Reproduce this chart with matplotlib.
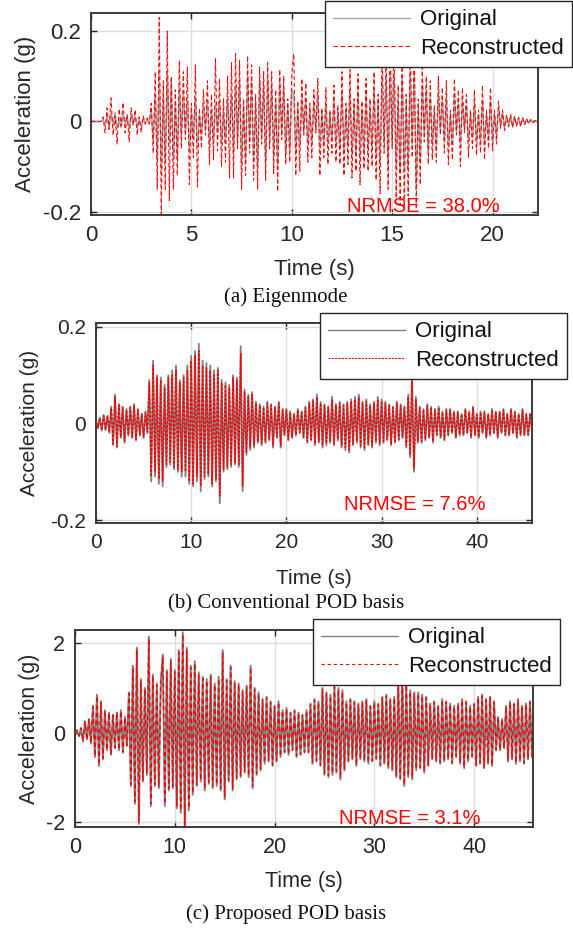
import matplotlib
matplotlib.use('Agg')
import matplotlib.pyplot as plt
import numpy as np
from matplotlib.lines import Line2D

plt.rcParams['font.family'] = ['Liberation Sans', 'DejaVu Sans']
plt.rcParams['axes.unicode_minus'] = False

W, H = 573, 934  # output size in px (dpi 100)

# ---- (a) Eigenmode : samples every 0.1 s, values in mg
dt_a = 0.1
orig_a = [0, 0, 0, 0, 0, 0,
          4, -8, 12, -15, 18, -6, 20, -16, 5, -14, 15, -4, 12, -18, 14, -5, 11, -13, 4, -10, 6, -3, 4, -3,
          25, -45, 60, -85, 105, -110, 60, -90, 110, -50, 95, -85, 40, -80, 75, -30,
          60, -25, 50, -65, 20, -40, 55, -60, 15, -30,
          35, -15, 45, -50, 25, -45, 40, -20, 45, -50, 20, -45, 50, -25, 60,
          -70, 80, -40, 90, -95, 35, -90, 100, -45, 90, -85, 40, -100, 90, -35, 80, -90, 95, -40, 80,
          -75, 45, -95, 90, -30, 75, -70, 35, -60, 70,
          60, -65, 30, -55, 50, -20, 45, -50, 25, -45, 40, -15, 55, -60, 20, -45, 40, -50, 15, -40,
          45, -50, 20, -55, 65, -70, 25, -55, 70, -75, 30, -70, 65, -80, 25, -70, 60, -65, 30, -60,
          70, -80, 40, -95, 100, -45, 95, -100, 110, -40, 105, -100, 45, -110, 100, -105, 40, -100, 110, -50,
          105, -150, 35, -90, 80, -30, 70, -65,
          55, -50, 20, -55, 60, -20, 45, -40, 50, -55, 15, -50, 55, -20, 40, -50, 45, -15, 35, -45, 15, -35,
          40, -45, 15, -40, 45, -50, 15, -35, 45, -40, 15, -30, 30, -10, 20, -15,
          12, -10, 14, -12, 10, -9, 8, -10, 7, -6, 5, -4, 4, -3, 2, 0]
rec_a = [0, 0, 0, 0, 0, 0,
         10, -25, 30, -18, 52, -30, 12, -50, 28, -10, 42, -25, 15, -45, 30, -8, 26, -30, 10, -24, 12, -6, 8, -6,
         40, -70, 110, -150, 230, -205, 90, -150, 200, -175, 100, -150, 70, -120, 135, -60,
         110, -40, 120, -140, 40, -80, 125, -145, 30, -60,
         70, -30, 90, -95, 60, -85, 140, -65, 95, -100, 50, -90, 100, -125, 130,
         -125, 150, -60, 135, -150, 50, -120, 145, -70, 125, -130, 60, -150, 120, -50, 110, -130, 130, -60, 110,
         -115, 70, -155, 115, -40, 100, -95, 50, -90, 105,
         150, -120, 45, -110, 95, -30, 85, -90, 40, -80, 70, -25, 95, -120, 30, -80, 75, -95, 25, -70,
         80, -90, 35, -95, 110, -120, 40, -95, 115, -125, 50, -110, 105, -140, 45, -105, 95, -110, 50, -100,
         110, -130, 60, -160, 170, -70, 160, -150, 190, -60, 180, -170, 80, -185, 175, -190, 60, -165, 180, -80,
         175, -190, 50, -140, 120, -45, 100, -95,
         90, -85, 35, -90, 100, -30, 75, -70, 90, -95, 25, -85, 95, -30, 70, -100, 75, -25, 60, -80, 25, -60,
         70, -75, 25, -70, 80, -85, 25, -60, 75, -65, 25, -50, 45, -15, 25, -20,
         14, -12, 15, -13, 11, -10, 9, -11, 8, -7, 6, -5, 4, -3, 2, 0]

# ---- (b) Conventional POD basis : samples every 0.2 s, values in mg
dt_b = 0.2
orig_b = [5, -10, 12, -15, 18, -14, 16, -20,
          35, -45, 60, -50, 40,
          -30, 35, -40, 30, -25, 35, -30, 40, -35, 30, -25, 20, -30, 25, -20,
          90, -120, 130, -110, 100, -125, 95, -130,
          80, -90, 100, -85, 110, -95, 120, -100, 90, -110,
          100, -110, 120, -125, 140, -130, 150, -120, 165, -140, 130, -115, 125, -110, 120, -130, 110, -120, 115, -165,
          90, -100, 85, -95, 80, -90, 100, -85, 95, -90, 160, -140,
          70, -65, 60, -55, 65, -50, 45, -40,
          40, -45, 35, -40, 45, -35, 40, -50, 35, -30, 45, -50,
          30, -25, 30, -35, 25, -30, 20, -25, 30, -20, 25, -30, 35,
          -40, 45, -35, 50, -45, 60, -40, 45, -50, 40, -45, 35, -40, 55, -45, 40, -35, 45, -50, 40,
          -55, 45, -60, 50, -45, 55, -40, 60, -50, 45, -55, 50, -45, 40, -50, 45,
          -40, 55, -45, 50, -40, 45, -35, 40, -45, 35, -40, 45, -35, 40, -30, 35,
          -50, 60, -70, 95, -100, 55,
          -40, 35, -40, 30, -35, 40, -30, 35, -40, 30, -25, 35, -30, 25, -35, 30, -25, 30, -20, 25, -30, 25,
          -25, 20, -25, 30, -20, 25, -30, 35, -25, 20, -30, 25, -20, 25, -30, 20, -25, 30, -20, 25,
          -30, 25, -20, 30, -25, 20, -25, 30, -20, 25, -30, 20, -25, 30, -25, 20, -25, 20, -15]
rec_b = [4, -9, 11, -14, 16, -13, 15, -18,
         32, -42, 55, -47, 38,
         -28, 33, -37, 28, -24, 33, -28, 37, -33, 28, -23, 19, -28, 23, -18,
         85, -110, 120, -100, 95, -115, 90, -120,
         75, -85, 95, -80, 100, -90, 110, -95, 85, -100,
         95, -100, 110, -120, 130, -125, 140, -110, 150, -130, 120, -110, 115, -105, 110, -125, 100, -115, 110, -150,
         85, -95, 80, -90, 75, -85, 95, -80, 90, -85, 145, -130,
         65, -60, 55, -50, 60, -45, 42, -38,
         38, -42, 33, -38, 42, -33, 38, -46, 33, -28, 42, -46,
         28, -23, 28, -33, 23, -28, 19, -23, 28, -19, 23, -28, 33,
         -37, 42, -33, 46, -42, 55, -37, 42, -46, 37, -42, 33, -37, 50, -42, 37, -33, 42, -46, 37,
         -50, 42, -55, 46, -42, 50, -37, 55, -46, 42, -50, 46, -42, 37, -46, 42,
         -37, 50, -42, 46, -37, 42, -33, 37, -42, 33, -37, 42, -33, 37, -28, 33,
         -46, 55, -65, 88, -92, 50,
         -37, 33, -37, 28, -33, 37, -28, 33, -37, 28, -23, 33, -28, 23, -33, 28, -23, 28, -19, 23, -28, 23,
         -23, 19, -23, 28, -19, 23, -28, 33, -23, 19, -28, 23, -19, 23, -28, 19, -23, 28, -19, 23,
         -28, 23, -19, 28, -23, 19, -23, 28, -19, 23, -28, 19, -23, 28, -23, 19, -23, 19, -14]

# ---- (c) Proposed POD basis : samples every 0.2 s, values in 0.01 g
dt_c = 0.2
orig_c = [0, 5, -8, 10,
          -20, 25, -15, 30, -25,
          60, -55, 85, -75, 70, -60, 50,
          -40, 45, -50, 40, -35, 45, -40, 50, -45, 35, -30,
          90, -120, 150, -160, 190, -205,
          120, -110, 100, -95,
          215, -165, 130,
          -120, 110, -125, 115,
          175, -165, 140,
          -130, 165, -125, 140,
          -170, 185, -180, 225, -215, 190, -175,
          150, -140, 160, -120, 135, -110, 125, -130,
          120, -115, 130, -125, 110, -120, 125, -130, 185, -150,
          120, -110, 150, -130, 115, -105, 110, -100,
          95, -90, 105, -100, 150, -125, 100, -95, 90, -85,
          75, -70, 80, -65, 70, -75, 60, -65, 70, -55,
          50, -45, 55, -50, 45, -40, 50, -55, 45, -50, 40, -45, 50, -45,
          65, -70, 75, -65, 70, -75,
          100, -95, 90, -100, 85, -95, 105, -90, 100, -105, 95, -85,
          70, -65, 75, -60, 70, -75, 65, -60, 70, -65, 75, -70, 60, -65, 70, -60, 65,
          -75, 80, -70, 85, -80, 75, -85, 80,
          -100, 110, -105, 130, -120, 110, -100, 95, -105, 90,
          -85, 90, -80, 85, -90, 80, -75,
          65, -60, 70, -65, 60, -70, 75, -65, 70, -60, 65, -70, 60, -55, 65, -70, 75, -80, 70, -65, 60, -55, 65,
          -75, 80, -70, 85, -80, 75, -70, 80, -75, 70,
          -40, 35, -40, 30, -35,
          60, -65, 70, -60, 65, -70, 75, -65, 60, -70, 65, -60, 70, -55]
rec_c = [0, 5, -8, 10,
         -19, 24, -16, 29, -24,
         58, -53, 82, -73, 68, -58, 49,
         -39, 44, -48, 39, -34, 44, -39, 48, -44, 34, -29,
         88, -117, 146, -155, 185, -200,
         117, -107, 97, -92,
         210, -160, 127,
         -117, 107, -121, 112,
         170, -160, 136,
         -126, 160, -121, 136,
         -165, 180, -175, 220, -210, 185, -170,
         146, -136, 155, -117, 131, -107, 121, -126,
         117, -112, 126, -121, 107, -117, 121, -126, 180, -146,
         117, -107, 146, -126, 112, -102, 107, -97,
         92, -87, 102, -97, 146, -121, 97, -92, 87, -82,
         73, -68, 78, -63, 68, -73, 58, -63, 68, -53,
         49, -44, 53, -49, 44, -39, 49, -53, 44, -49, 39, -44, 49, -44,
         63, -68, 73, -63, 68, -73,
         97, -92, 87, -97, 82, -92, 102, -87, 97, -102, 92, -82,
         68, -63, 73, -58, 68, -73, 63, -58, 68, -63, 73, -68, 58, -63, 68, -58, 63,
         -73, 78, -68, 82, -78, 73, -82, 78,
         -97, 107, -102, 126, -117, 107, -97, 92, -102, 87,
         -82, 87, -78, 82, -87, 78, -73,
         63, -58, 68, -63, 58, -68, 73, -63, 68, -58, 63, -68, 58, -53, 63, -68, 73, -78, 68, -63, 58, -53, 63,
         -73, 78, -68, 82, -78, 73, -68, 78, -73, 68,
         -39, 34, -39, 29, -34,
         58, -63, 68, -58, 63, -68, 73, -63, 58, -68, 63, -58, 68, -53]

labels = ['Original', 'Reconstructed']
captions = ['(a) Eigenmode', '(b) Conventional POD basis', '(c) Proposed POD basis']
nrmse = ['NRMSE = 38.0%', 'NRMSE = 7.6%', 'NRMSE = 3.1%']
xticks_a = [0, 5, 10, 15, 20]
xticks_bc = [0, 10, 20, 30, 40]
yticks_ab = [-0.2, 0, 0.2]
yticks_c = [-2, 0, 2]

RED = '#ff0000'
TXT = '#262626'

fig = plt.figure(figsize=(W / 100, H / 100), dpi=100)


def panel(box, orig, rec, dt, scale, xlim, ylim, xticks, yticks, grey, lws,
          fs, leg_box, note, note_xy, cap, cap_y, ylab_x, dash):
    left, top, right, bottom = box
    ax = fig.add_axes([left / W, 1 - bottom / H, (right - left) / W, (bottom - top) / H])
    t1 = np.arange(len(orig)) * dt
    t2 = np.arange(len(rec)) * dt
    ax.plot(t1, np.array(orig) * scale, color=grey, lw=lws[0], zorder=2)
    ax.plot(t2, np.array(rec) * scale, color=RED, lw=lws[1], ls=(0, dash), zorder=3)
    ax.set_xlim(*xlim)
    ax.set_ylim(*ylim)
    ax.set_xticks(xticks)
    ax.set_xticklabels([f'{v:g}' for v in xticks])
    ax.set_yticks(yticks)
    ax.set_yticklabels([f'{v:g}' for v in yticks])
    ax.grid(True, color='#dedede', lw=1.0)
    ax.set_axisbelow(True)
    ax.tick_params(direction='in', length=4, width=1, top=True, right=True,
                   labelsize=fs, colors=TXT, pad=7)
    for s in ax.spines.values():
        s.set_color('#3a3a3a')
        s.set_linewidth(1.4)
    ax.set_xlabel('Time (s)', fontsize=fs, color=TXT, va='center')
    ax.xaxis.set_label_coords(0.5, -(55 / (bottom - top)))
    ax.set_ylabel('Acceleration (g)', fontsize=fs, color=TXT, va='center')
    ax.yaxis.set_label_coords((ylab_x - left) / (right - left), 0.5)

    handles = [Line2D([], [], color=grey, lw=1.0),
               Line2D([], [], color=RED, lw=0.8, ls=(0, dash))]
    lx1, ly1 = leg_box
    leg = ax.legend(handles, labels, loc='upper right', bbox_to_anchor=(lx1 / W, 1 - ly1 / H),
                    bbox_transform=fig.transFigure, borderaxespad=0, fancybox=False,
                    framealpha=1, edgecolor=TXT, fontsize=16, handlelength=3.45,
                    handletextpad=0.45, borderpad=0.38, labelspacing=0.32)
    leg.get_frame().set_linewidth(1.0)
    for tx in leg.get_texts():
        tx.set_color('#111111')

    fig.text(note_xy[0] / W, 1 - note_xy[1] / H, note, color=RED, fontsize=14.5,
             ha='center', va='center', zorder=10)
    fig.text(286 / W, 1 - cap_y / H, cap, family='Liberation Serif', fontsize=15,
             color='#111111', ha='center', va='center')
    return ax


panel((91, 13, 537.5, 215), orig_a, rec_a, dt_a, 0.001, (0, 22.24), (-0.207, 0.24),
      xticks_a, yticks_ab, '#a8a8a8', (1.1, 0.75), 16, (572, 1), nrmse[0], (423, 207),
      captions[0], 297, 26, (4, 2.5))
panel((96, 323, 532, 523), orig_b, rec_b, dt_b, 0.001, (0, 45.8), (-0.206, 0.208),
      xticks_bc, yticks_ab, '#7f7f7f', (1.3, 1.0), 15, (567, 313), nrmse[1], (415, 505),
      captions[1], 604, 30, (2, 1))
panel((75, 630, 533, 827), orig_c, rec_c, dt_c, 0.01, (0, 45.9), (-2.12, 2.3),
      xticks_bc, yticks_c, '#808080', (1.4, 1.0), 15.5, (560, 619), nrmse[2], (410, 818),
      captions[2], 914, 30, (3, 2.5))

fig.savefig('out.png', dpi=100)
